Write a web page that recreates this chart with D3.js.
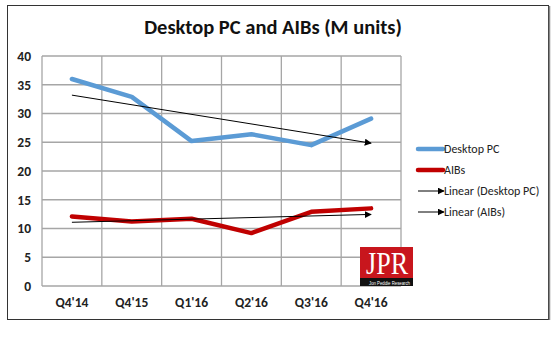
<!DOCTYPE html>
<html>
<head>
<meta charset="utf-8">
<script src="https://cdn.jsdelivr.net/npm/d3@7"></script>
<style>
	body { margin: 0; background: #fff; }
	text { font-family: Carlito, 'Open Sans', sans-serif; }
</style>
</head>
<body>
<svg width="560" height="348"></svg>
<script>
const quarters = ["Q4'14", "Q4'15", "Q1'16", "Q2'16", "Q3'16", "Q4'16"];
const desktopPC = [36.0, 32.9, 25.2, 26.4, 24.5, 29.1];
const aibs = [12.1, 11.2, 11.7, 9.2, 12.9, 13.5];
const yTicks = [0, 5, 10, 15, 20, 25, 30, 35, 40];

const svg = d3.select('svg');
const margin = { top: 56, left: 42, right: 401, bottom: 286 };

// outer frame
svg.append('rect')
	.attr('x', 7.5).attr('y', 5.5)
	.attr('width', 541).attr('height', 314)
	.attr('fill', '#fff')
	.attr('stroke', '#333')
	.attr('stroke-width', 1);
svg.append('line')
	.attr('x1', 549.5).attr('x2', 549.5)
	.attr('y1', 6).attr('y2', 320)
	.attr('stroke', '#888').attr('stroke-width', 1.5);

svg.append('text')
	.attr('x', 273).attr('y', 34)
	.attr('text-anchor', 'middle')
	.attr('font-size', 20.5)
	.attr('font-weight', 700)
	.attr('fill', '#111')
	.text('Desktop PC and AIBs (M units)');

const x = d3.scaleBand()
	.domain(quarters)
	.range([margin.left, margin.right]);

const y = d3.scaleLinear()
	.domain([0, 40])
	.range([margin.bottom, margin.top]);

// grid
const grid = svg.append('g').attr('stroke', '#a6a6a6').attr('stroke-width', 1.3);
grid.selectAll('.h')
	.data(yTicks)
	.enter()
	.append('line')
	.attr('x1', margin.left).attr('x2', margin.right)
	.attr('y1', d => y(d)).attr('y2', d => y(d));
grid.selectAll('.v')
	.data(quarters.concat(['end']))
	.enter()
	.append('line')
	.attr('x1', (d, i) => margin.left + i * x.bandwidth())
	.attr('x2', (d, i) => margin.left + i * x.bandwidth())
	.attr('y1', margin.top).attr('y2', margin.bottom);

// axes labels
const yAxis = svg.append('g')
	.attr('transform', `translate(${margin.left - 11},0)`)
	.call(d3.axisLeft(y).tickValues(yTicks).tickSize(0).tickPadding(0));
yAxis.select('.domain').remove();
yAxis.selectAll('text')
	.attr('font-size', 13.5)
	.attr('font-weight', 700)
	.attr('fill', '#222')
	.style('font-family', "Carlito, 'Open Sans', sans-serif");

const xAxis = svg.append('g')
	.attr('transform', `translate(0,${margin.bottom + 10})`)
	.call(d3.axisBottom(x).tickSize(0).tickPadding(0));
xAxis.select('.domain').remove();
xAxis.selectAll('text')
	.attr('font-size', 13.5)
	.attr('font-weight', 700)
	.attr('fill', '#222')
	.attr('dy', '0.85em')
	.style('font-family', "Carlito, 'Open Sans', sans-serif");

// logo
const logo = svg.append('g');
logo.append('rect')
	.attr('x', 360).attr('y', 247)
	.attr('width', 53).attr('height', 39)
	.attr('fill', '#c8161d');
logo.append('rect')
	.attr('x', 360).attr('y', 278)
	.attr('width', 53).attr('height', 8)
	.attr('fill', '#111');
logo.append('text')
	.attr('x', 366).attr('y', 274)
	.attr('font-size', 32)
	.attr('fill', '#fff')
	.attr('textLength', 42)
	.attr('lengthAdjust', 'spacingAndGlyphs')
	.style('font-family', "'Liberation Serif', 'DejaVu Serif', serif")
	.text('JPR');
logo.append('text')
	.attr('x', 369).attr('y', 284.5)
	.attr('font-size', 6)
	.attr('fill', '#fff')
	.attr('textLength', 41)
	.attr('lengthAdjust', 'spacingAndGlyphs')
	.style('font-family', "'Liberation Sans Narrow', 'Liberation Sans', sans-serif")
	.text('Jon Peddie Research');

// trend lines (least squares)
const trend = vals => {
	const n = vals.length;
	const mx = (n - 1) / 2;
	const my = d3.mean(vals);
	const slope = d3.sum(vals, (v, i) => (i - mx) * (v - my)) / d3.sum(vals, (v, i) => (i - mx) * (i - mx));
	return [my - slope * mx, my + slope * (n - 1 - mx)];
};

svg.append('defs').append('marker')
	.attr('id', 'arrow')
	.attr('viewBox', '0 0 10 10')
	.attr('refX', 9).attr('refY', 5)
	.attr('markerWidth', 7).attr('markerHeight', 7)
	.attr('markerUnits', 'userSpaceOnUse')
	.attr('orient', 'auto')
	.append('path')
	.attr('d', 'M0,0L10,5L0,10z')
	.attr('fill', '#000');

const cx = q => x(q) + x.bandwidth() / 2;
const lineGen = d3.line()
	.x((d, i) => cx(quarters[i]))
	.y(d => y(d));

const series = [
	{ name: 'Desktop PC', values: desktopPC, colour: '#5b9bd5' },
	{ name: 'AIBs', values: aibs, colour: '#c00000' },
];

series.forEach(s => {
	s.trend = trend(s.values);
});

series.forEach(s => {
	svg.append('path')
		.datum(s.values)
		.attr('d', lineGen)
		.attr('fill', 'none')
		.attr('stroke', s.colour)
		.attr('stroke-width', 4.5)
		.attr('stroke-linejoin', 'round')
		.attr('stroke-linecap', 'round');
});

series.forEach(s => {
	svg.append('line')
		.attr('x1', cx(quarters[0])).attr('y1', y(s.trend[0]))
		.attr('x2', cx(quarters[quarters.length - 1])).attr('y2', y(s.trend[1]))
		.attr('stroke', '#000')
		.attr('stroke-width', 1)
		.attr('marker-end', 'url(#arrow)');
});

// legend
const legendItems = [
	{ label: 'Desktop PC', colour: '#5b9bd5', arrow: false },
	{ label: 'AIBs', colour: '#c00000', arrow: false },
	{ label: 'Linear (Desktop PC)', colour: '#000', arrow: true },
	{ label: 'Linear (AIBs)', colour: '#000', arrow: true },
];
const legend = svg.append('g')
	.selectAll('g')
	.data(legendItems)
	.enter()
	.append('g')
	.attr('transform', (d, i) => `translate(418,${149 + i * 21})`);
legend.append('line')
	.attr('x1', 0).attr('x2', d => d.arrow ? 26 : 25)
	.attr('y1', 0).attr('y2', 0)
	.attr('stroke', d => d.colour)
	.attr('stroke-width', d => d.arrow ? 1 : 4.5)
	.attr('stroke-linecap', d => d.arrow ? 'butt' : 'round')
	.attr('marker-end', d => d.arrow ? 'url(#arrow)' : null);
legend.append('text')
	.attr('x', 26).attr('y', 0)
	.attr('dy', '0.35em')
	.attr('font-size', 12)
	.attr('fill', '#222')
	.text(d => d.label);
</script>
</body>
</html>
